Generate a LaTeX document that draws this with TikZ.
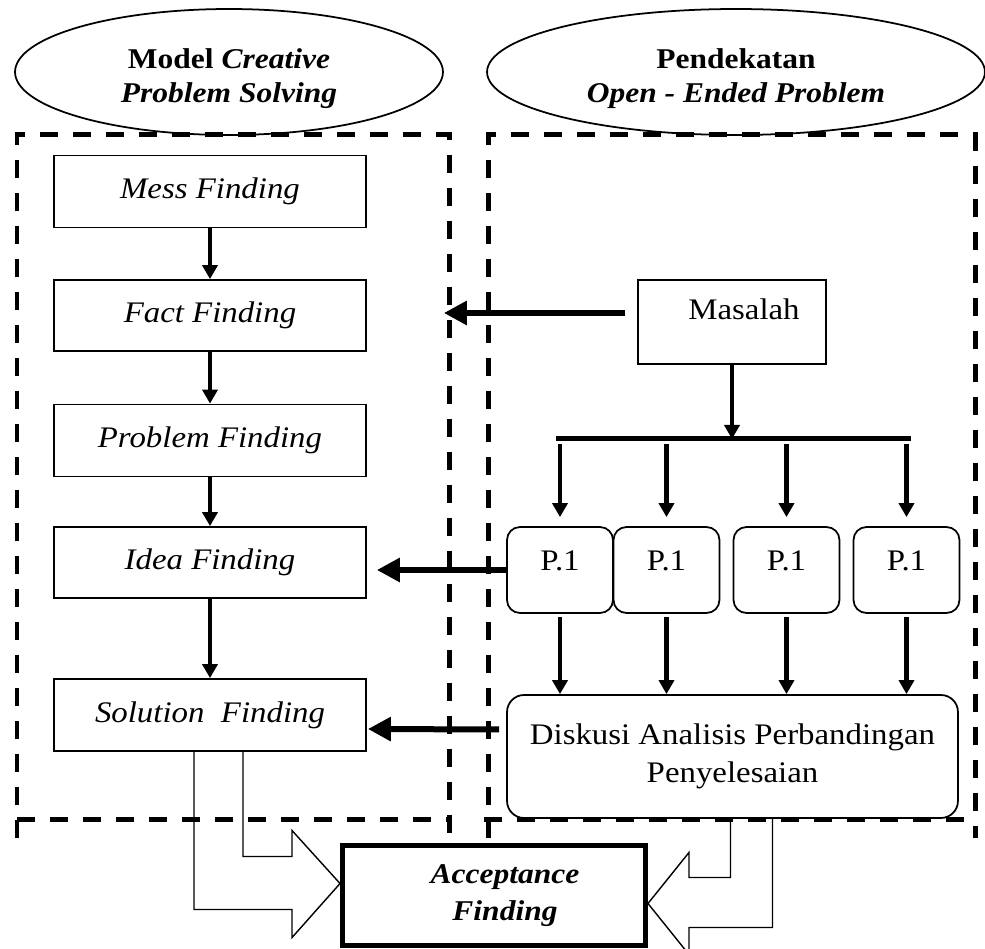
\documentclass[tikz,border=0pt]{standalone}
\usepackage{fontspec}
\setmainfont{Liberation Serif}[FakeStretch=1.1]
\usetikzlibrary{shapes.geometric,arrows.meta,calc}
\begin{document}
\begin{tikzpicture}[x=0.02cm,y=-0.02cm,
		font=\fontsize{17}{20}\selectfont,
		fin/.style={draw,line width=1pt,minimum width=6.24cm,minimum height=1.44cm,inner sep=0pt,font=\fontsize{17}{20}\selectfont\itshape},
		pbox/.style={draw,line width=1pt,rounded corners=0.26cm,minimum width=2.12cm,text height=0.88cm,text depth=0.84cm,inner sep=0pt},
		oval/.style={draw,ellipse,line width=1pt,inner sep=0pt,minimum height=2.52cm,align=center,font=\fontsize{16.3}{19.3}\selectfont\bfseries},
		dashframe/.style={line width=0.1cm,dash pattern=on 0.36cm off 0.3cm},
		smallarrow/.style={line width=0.09cm,-{Triangle[length=0.28cm,width=0.3cm]}},
		bigarrow/.style={line width=0.12cm,-{Triangle[length=0.46cm,width=0.46cm]}},
		hollow/.style={line width=0.8pt,line join=miter}]
	\clip (0,0) rectangle (985,949);
	\node[oval,minimum width=8.56cm] (e1) at (229,72) {\rule{0pt}{0.65cm}Model \textit{Creative}\\\textit{Problem Solving}};
	\node[oval,minimum width=9.96cm] (e2) at (736,72) {\rule{0pt}{0.65cm}Pendekatan\\\textit{Open - Ended Problem}};
	\draw[dashframe] (17,838) -- (17,135) -- (449,135) -- (449,838);
	\draw[dashframe] (17,820) -- (449,820);
	\draw[dashframe] (488,838) -- (488,135) -- (975,135) -- (975,838);
	\draw[dashframe] (484,820) -- (975,820);
	\node[fin] (m1) at (210,191.5) {Mess Finding};
	\node[fin,minimum height=1.42cm] (m2) at (210,315.5) {Fact Finding};
	\node[fin] (m3) at (210,440.5) {Problem Finding};
	\node[fin,minimum height=1.42cm] (m4) at (210,562.5) {Idea Finding};
	\node[fin] (m5) at (210,715) {Solution\ \ Finding};
	\node[draw,line width=1pt,minimum width=3.76cm,text height=0.8cm,text depth=0.88cm,inner sep=0pt] (ma) at (732,322) {\hspace*{0.48cm}Masalah};
	\node[pbox] (p1) at (560,570) {P.1};
	\node[pbox] (p2) at (666.5,570) {P.1};
	\node[pbox] (p3) at (786.5,570) {P.1};
	\node[pbox] (p4) at (906.5,570) {P.1};
	\node[draw,line width=1pt,rounded corners=0.34cm,minimum width=9.02cm,minimum height=2.46cm,align=center,font=\fontsize{17}{21.5}\selectfont] (dk) at (732.5,756.5) {Diskusi Analisis Perbandingan\\Penyelesaian};
	\node[draw,line width=0.1cm,minimum width=6.06cm,minimum height=2cm,inner sep=0pt,align=center,font=\fontsize{16.3}{21.5}\selectfont\bfseries\itshape] (ac) at (494,895.5) {\hspace*{0.44cm}Acceptance\\\hspace*{0.44cm}Finding};
	\draw[smallarrow] (m1.south) -- (m2.north);
	\draw[smallarrow] (m2.south) -- (m3.north);
	\draw[smallarrow] (m3.south) -- (m4.north);
	\draw[smallarrow] (m4.south) -- (m5.north);
	\draw[bigarrow] ($(ma.west)+(-12,-9)$) -- ($(m2.east)+(77,-2.5)$);
	\coordinate (b1) at (556,439);
	\coordinate (b2) at (911,439);
	\draw[line width=0.1cm] (b1) -- (b2);
	\draw[smallarrow] (ma.south) -- (ma.south |- b1);
	\draw[smallarrow] ($(p1.north |- b1)+(0,5)$) -- ($(p1.north)+(0,-9)$);
	\draw[smallarrow] ($(p2.north |- b1)+(0,5)$) -- ($(p2.north)+(0,-9)$);
	\draw[smallarrow] ($(p3.north |- b1)+(0,5)$) -- ($(p3.north)+(0,-9)$);
	\draw[smallarrow] ($(p4.north |- b1)+(0,5)$) -- ($(p4.north)+(0,-9)$);
	\draw[smallarrow] ($(p1.south)+(0,3)$) -- (p1.south |- dk.north);
	\draw[smallarrow] ($(p2.south)+(0,3)$) -- (p2.south |- dk.north);
	\draw[smallarrow] ($(p3.south)+(0,3)$) -- (p3.south |- dk.north);
	\draw[smallarrow] ($(p4.south)+(0,3)$) -- (p4.south |- dk.north);
	\draw[bigarrow] (p1.west) -- ($(p1.west -| m4.east)+(10,0)$);
	\draw[bigarrow] ($(dk.west)+(-7,-27)$) -- ($(m5.east)+(1,14)$);
	\draw[hollow] ($(m5.south)+(33,0)$) |- ($(ac.west)+(-48,-39)$) -- ++(0,-26) -- ($(ac.west)+(0,-12)$) -- ($(ac.west)+(-48,42)$) -- ++(0,-28) -| ($(m5.south)+(-16,0)$);
	\draw[hollow] ($(dk.south)+(-2,0)$) |- ($(ac.east)+(41,-18)$) -- ++(0,-25) -- ($(ac.east)+(0,8)$) -- ($(ac.east)+(41,59)$) -- ++(0,-27) -| ($(dk.south)+(40,0)$);
\end{tikzpicture}
\end{document}
